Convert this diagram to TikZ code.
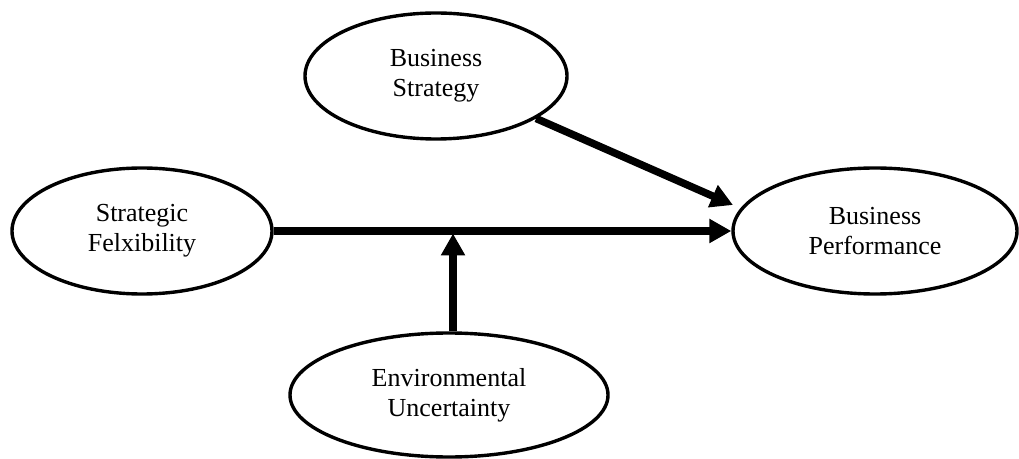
\documentclass[tikz,border=0pt]{standalone}
\usepackage{fontspec}
\setmainfont{Liberation Serif}
\usetikzlibrary{shapes.geometric,arrows.meta}
\begin{document}
\begin{tikzpicture}[x=1pt,y=1pt,
  oval/.style={ellipse,draw,line width=3.4pt,inner sep=0pt,align=center,
    font=\fontsize{26}{30}\selectfont},
  conn/.style={line width=7.5pt,-{Triangle[length=22pt,width=23pt]}}]
\useasboundingbox (0,0) rectangle (1019,458);
\node[oval,minimum width=262pt,minimum height=126pt] (bs) at (436,382) {Business\\Strategy};
\node[oval,minimum width=260pt,minimum height=126pt] (sf) at (142,227) {Strategic\\Felxibility};
\node[oval,minimum width=284pt,minimum height=126pt] (bp) at (875,227) {Business\\Performance};
\node[oval,minimum width=318pt,minimum height=124pt] (eu) at (449,63) {Environmental\\Uncertainty};
\coordinate (m) at (453,224.5);
\coordinate (bpin) at (733,253);
\draw[conn] (sf) -- (bp);
\draw[conn] (m |- eu.north) -- (m);
\draw[conn] (bs.-23) -- (bpin);
\end{tikzpicture}
\end{document}
